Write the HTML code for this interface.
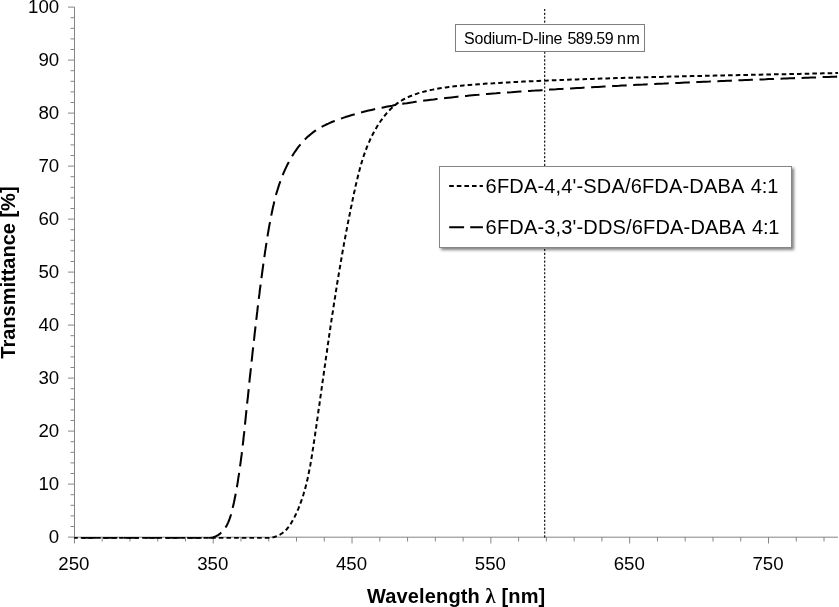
<!DOCTYPE html>
<html><head><meta charset="utf-8"><title>Transmittance</title>
<style>html,body{margin:0;padding:0;background:#fff}svg{display:block}text{font-family:"Liberation Sans",Arial,sans-serif;fill:#000}</style></head><body>
<svg width="839" height="607" viewBox="0 0 839 607">
<rect width="839" height="607" fill="#fff"/>
<g stroke="#868686" stroke-width="1" fill="none">
<line x1="74.5" y1="7" x2="74.5" y2="537.5"/>
<line x1="74" y1="537.2" x2="838" y2="537.2"/>
<line x1="68.0" y1="537.1" x2="74.5" y2="537.1"/>
<line x1="70.5" y1="526.5" x2="74.5" y2="526.5"/>
<line x1="70.5" y1="515.9" x2="74.5" y2="515.9"/>
<line x1="70.5" y1="505.3" x2="74.5" y2="505.3"/>
<line x1="70.5" y1="494.7" x2="74.5" y2="494.7"/>
<line x1="68.0" y1="484.1" x2="74.5" y2="484.1"/>
<line x1="70.5" y1="473.5" x2="74.5" y2="473.5"/>
<line x1="70.5" y1="462.9" x2="74.5" y2="462.9"/>
<line x1="70.5" y1="452.3" x2="74.5" y2="452.3"/>
<line x1="70.5" y1="441.7" x2="74.5" y2="441.7"/>
<line x1="68.0" y1="431.1" x2="74.5" y2="431.1"/>
<line x1="70.5" y1="420.5" x2="74.5" y2="420.5"/>
<line x1="70.5" y1="409.9" x2="74.5" y2="409.9"/>
<line x1="70.5" y1="399.3" x2="74.5" y2="399.3"/>
<line x1="70.5" y1="388.7" x2="74.5" y2="388.7"/>
<line x1="68.0" y1="378.1" x2="74.5" y2="378.1"/>
<line x1="70.5" y1="367.5" x2="74.5" y2="367.5"/>
<line x1="70.5" y1="356.9" x2="74.5" y2="356.9"/>
<line x1="70.5" y1="346.3" x2="74.5" y2="346.3"/>
<line x1="70.5" y1="335.7" x2="74.5" y2="335.7"/>
<line x1="68.0" y1="325.1" x2="74.5" y2="325.1"/>
<line x1="70.5" y1="314.5" x2="74.5" y2="314.5"/>
<line x1="70.5" y1="303.9" x2="74.5" y2="303.9"/>
<line x1="70.5" y1="293.3" x2="74.5" y2="293.3"/>
<line x1="70.5" y1="282.7" x2="74.5" y2="282.7"/>
<line x1="68.0" y1="272.1" x2="74.5" y2="272.1"/>
<line x1="70.5" y1="261.5" x2="74.5" y2="261.5"/>
<line x1="70.5" y1="250.9" x2="74.5" y2="250.9"/>
<line x1="70.5" y1="240.3" x2="74.5" y2="240.3"/>
<line x1="70.5" y1="229.7" x2="74.5" y2="229.7"/>
<line x1="68.0" y1="219.1" x2="74.5" y2="219.1"/>
<line x1="70.5" y1="208.5" x2="74.5" y2="208.5"/>
<line x1="70.5" y1="197.9" x2="74.5" y2="197.9"/>
<line x1="70.5" y1="187.3" x2="74.5" y2="187.3"/>
<line x1="70.5" y1="176.7" x2="74.5" y2="176.7"/>
<line x1="68.0" y1="166.1" x2="74.5" y2="166.1"/>
<line x1="70.5" y1="155.5" x2="74.5" y2="155.5"/>
<line x1="70.5" y1="144.9" x2="74.5" y2="144.9"/>
<line x1="70.5" y1="134.3" x2="74.5" y2="134.3"/>
<line x1="70.5" y1="123.7" x2="74.5" y2="123.7"/>
<line x1="68.0" y1="113.1" x2="74.5" y2="113.1"/>
<line x1="70.5" y1="102.5" x2="74.5" y2="102.5"/>
<line x1="70.5" y1="91.9" x2="74.5" y2="91.9"/>
<line x1="70.5" y1="81.3" x2="74.5" y2="81.3"/>
<line x1="70.5" y1="70.7" x2="74.5" y2="70.7"/>
<line x1="68.0" y1="60.1" x2="74.5" y2="60.1"/>
<line x1="70.5" y1="49.5" x2="74.5" y2="49.5"/>
<line x1="70.5" y1="38.9" x2="74.5" y2="38.9"/>
<line x1="70.5" y1="28.3" x2="74.5" y2="28.3"/>
<line x1="70.5" y1="17.7" x2="74.5" y2="17.7"/>
<line x1="68.0" y1="7.1" x2="74.5" y2="7.1"/>
<line x1="74.4" y1="537" x2="74.4" y2="543.5"/>
<line x1="102.16" y1="537" x2="102.16" y2="541.5"/>
<line x1="129.93" y1="537" x2="129.93" y2="541.5"/>
<line x1="157.69" y1="537" x2="157.69" y2="541.5"/>
<line x1="185.46" y1="537" x2="185.46" y2="541.5"/>
<line x1="213.22" y1="537" x2="213.22" y2="543.5"/>
<line x1="240.98" y1="537" x2="240.98" y2="541.5"/>
<line x1="268.75" y1="537" x2="268.75" y2="541.5"/>
<line x1="296.51" y1="537" x2="296.51" y2="541.5"/>
<line x1="324.28" y1="537" x2="324.28" y2="541.5"/>
<line x1="352.04" y1="537" x2="352.04" y2="543.5"/>
<line x1="379.8" y1="537" x2="379.8" y2="541.5"/>
<line x1="407.57" y1="537" x2="407.57" y2="541.5"/>
<line x1="435.33" y1="537" x2="435.33" y2="541.5"/>
<line x1="463.1" y1="537" x2="463.1" y2="541.5"/>
<line x1="490.86" y1="537" x2="490.86" y2="543.5"/>
<line x1="518.62" y1="537" x2="518.62" y2="541.5"/>
<line x1="546.39" y1="537" x2="546.39" y2="541.5"/>
<line x1="574.15" y1="537" x2="574.15" y2="541.5"/>
<line x1="601.92" y1="537" x2="601.92" y2="541.5"/>
<line x1="629.68" y1="537" x2="629.68" y2="543.5"/>
<line x1="657.44" y1="537" x2="657.44" y2="541.5"/>
<line x1="685.21" y1="537" x2="685.21" y2="541.5"/>
<line x1="712.97" y1="537" x2="712.97" y2="541.5"/>
<line x1="740.74" y1="537" x2="740.74" y2="541.5"/>
<line x1="768.5" y1="537" x2="768.5" y2="543.5"/>
<line x1="796.26" y1="537" x2="796.26" y2="541.5"/>
<line x1="824.03" y1="537" x2="824.03" y2="541.5"/>
</g>
<line x1="544.7" y1="9" x2="544.7" y2="537.4" stroke="#000" stroke-width="1.1" stroke-dasharray="2.1 1.77"/>
<clipPath id="pc"><rect x="74.3" y="0" width="763.7" height="538.75"/></clipPath>
<path d="M74.3,538 L249.9,538.0 L252.7,538.0 L255.7,538.0 L258.8,538.0 L262.0,538.0 L265.2,538.0 L268.3,538.0 L271.4,537.8 L274.4,537.0 L277.3,535.9 L280.0,534.6 L282.5,533.0 L284.7,531.2 L286.8,529.2 L288.6,526.9 L290.3,524.6 L291.8,522.1 L293.2,519.5 L294.6,516.9 L295.9,514.2 L297.1,511.5 L298.3,508.8 L299.4,506.1 L300.4,503.4 L301.4,500.6 L302.4,497.8 L303.3,495.0 L304.1,492.1 L305.0,489.3 L305.7,486.4 L306.5,483.5 L307.2,480.6 L307.8,477.7 L308.4,474.7 L309.0,471.8 L309.6,468.8 L310.2,465.9 L310.7,462.9 L311.2,459.9 L311.7,456.9 L312.2,453.9 L312.6,450.9 L313.1,447.9 L313.5,444.9 L314.0,441.9 L314.4,438.9 L314.9,435.9 L315.3,433.0 L315.7,430.0 L316.2,427.0 L316.6,424.0 L317.0,421.0 L317.5,418.0 L317.9,415.0 L318.3,412.0 L318.7,409.0 L319.2,406.1 L319.6,403.1 L320.0,400.1 L320.4,397.1 L320.9,394.1 L321.3,391.1 L321.7,388.2 L322.1,385.2 L322.5,382.2 L323.0,379.2 L323.4,376.3 L323.8,373.3 L324.2,370.3 L324.6,367.4 L325.1,364.4 L325.5,361.4 L325.9,358.4 L326.3,355.5 L326.8,352.5 L327.2,349.5 L327.6,346.6 L328.0,343.6 L328.5,340.6 L328.9,337.7 L329.3,334.7 L329.8,331.8 L330.2,328.8 L330.6,325.8 L331.1,322.9 L331.5,319.9 L332.0,317.0 L332.4,314.0 L332.9,311.1 L333.3,308.1 L333.8,305.1 L334.2,302.2 L334.7,299.2 L335.2,296.3 L335.6,293.3 L336.1,290.4 L336.6,287.4 L337.0,284.5 L337.5,281.5 L338.0,278.6 L338.5,275.6 L339.0,272.7 L339.5,269.7 L340.0,266.8 L340.5,263.8 L341.0,260.9 L341.5,257.9 L342.0,255.0 L342.5,252.0 L343.1,249.1 L343.6,246.1 L344.1,243.2 L344.7,240.2 L345.2,237.3 L345.8,234.4 L346.3,231.4 L346.9,228.5 L347.4,225.5 L348.0,222.6 L348.6,219.6 L349.2,216.7 L349.8,213.7 L350.3,210.8 L350.9,207.9 L351.6,204.9 L352.2,202.0 L352.8,199.0 L353.4,196.1 L354.0,193.1 L354.7,190.2 L355.3,187.2 L356.0,184.3 L356.7,181.4 L357.4,178.4 L358.1,175.5 L358.8,172.6 L359.6,169.7 L360.4,166.8 L361.2,163.9 L362.1,161.0 L363.0,158.2 L363.9,155.3 L364.9,152.5 L366.0,149.7 L367.0,146.9 L368.2,144.1 L369.4,141.4 L370.6,138.6 L371.9,135.9 L373.3,133.2 L374.7,130.6 L376.3,127.9 L377.8,125.3 L379.5,122.8 L381.2,120.3 L383.0,117.8 L384.9,115.4 L386.8,113.1 L388.8,110.9 L390.9,108.8 L393.1,106.8 L395.3,104.9 L397.6,103.1 L400.0,101.5 L402.4,100.0 L405.0,98.6 L407.6,97.3 L410.2,96.2 L413.0,95.1 L415.8,94.1 L418.6,93.1 L421.6,92.3 L424.6,91.5 L427.6,90.7 L430.7,90.1 L433.7,89.4 L436.8,88.9 L439.8,88.3 L442.8,87.9 L445.8,87.4 L448.8,87.0 L451.7,86.7 L454.7,86.3 L457.7,86.0 L460.6,85.7 L463.6,85.4 L466.5,85.2 L469.5,84.9 L472.4,84.7 L475.4,84.5 L478.4,84.3 L481.3,84.1 L484.3,83.8 L487.3,83.6 L490.3,83.4 L493.2,83.3 L496.2,83.1 L499.2,82.9 L502.2,82.7 L505.2,82.5 L508.2,82.4 L511.2,82.2 L514.2,82.1 L517.2,81.9 L520.2,81.8 L523.2,81.6 L526.2,81.5 L529.2,81.3 L532.2,81.2 L535.2,81.1 L538.2,80.9 L541.2,80.8 L544.2,80.7 L547.2,80.6 L550.2,80.4 L553.2,80.3 L556.2,80.2 L559.2,80.1 L562.2,80.0 L565.2,79.8 L568.2,79.7 L571.2,79.6 L574.2,79.5 L577.2,79.4 L580.2,79.3 L583.2,79.2 L586.2,79.1 L589.2,79.0 L592.2,78.9 L595.2,78.8 L598.2,78.7 L601.2,78.6 L604.2,78.5 L607.2,78.4 L610.2,78.3 L613.2,78.2 L616.2,78.1 L619.2,78.0 L622.2,77.9 L625.2,77.8 L628.2,77.8 L631.2,77.7 L634.2,77.6 L637.2,77.5 L640.2,77.4 L643.2,77.3 L646.2,77.3 L649.2,77.2 L652.2,77.1 L655.2,77.0 L658.2,76.9 L661.2,76.9 L664.2,76.8 L667.2,76.7 L670.2,76.6 L673.2,76.6 L676.2,76.5 L679.2,76.4 L682.2,76.3 L685.2,76.3 L688.2,76.2 L691.2,76.1 L694.2,76.1 L697.2,76.0 L700.2,75.9 L703.2,75.9 L706.1,75.8 L709.1,75.7 L712.1,75.7 L715.1,75.6 L718.1,75.5 L721.1,75.5 L724.1,75.4 L727.1,75.3 L730.1,75.3 L733.1,75.2 L736.1,75.2 L739.1,75.1 L742.1,75.0 L745.1,75.0 L748.1,74.9 L751.1,74.8 L754.1,74.8 L757.1,74.7 L760.1,74.7 L763.1,74.6 L766.1,74.5 L769.1,74.5 L772.1,74.4 L775.1,74.3 L778.1,74.3 L781.1,74.2 L784.1,74.2 L787.1,74.1 L790.1,74.0 L793.1,74.0 L796.1,73.9 L799.1,73.9 L802.1,73.8 L805.1,73.7 L808.1,73.7 L811.1,73.6 L814.1,73.5 L817.1,73.5 L820.1,73.4 L823.1,73.3 L826.1,73.3 L829.1,73.2 L832.1,73.2 L835.1,73.1 L838.0,73.0" clip-path="url(#pc)" fill="none" stroke="#000" stroke-width="2" stroke-linejoin="round" stroke-dasharray="4.6 3.066" stroke-dashoffset="1.15"/>
<path d="M74.3,538 L199.4,538.0 L203.2,538.0 L206.7,538.0 L210.0,538.0 L212.9,537.5 L215.6,536.4 L218.0,535.1 L220.2,533.6 L222.1,531.8 L223.9,529.8 L225.5,527.6 L226.9,525.2 L228.1,522.6 L229.2,520.0 L230.2,517.2 L231.1,514.3 L231.9,511.4 L232.6,508.4 L233.3,505.3 L234.0,502.3 L234.6,499.2 L235.2,496.2 L235.8,493.2 L236.3,490.2 L236.9,487.2 L237.4,484.1 L237.9,481.1 L238.3,478.1 L238.8,475.1 L239.3,472.1 L239.7,469.1 L240.1,466.2 L240.5,463.2 L240.9,460.2 L241.3,457.2 L241.7,454.2 L242.0,451.3 L242.4,448.3 L242.7,445.3 L243.1,442.3 L243.4,439.4 L243.7,436.4 L244.1,433.4 L244.4,430.5 L244.7,427.5 L245.0,424.5 L245.3,421.6 L245.6,418.6 L245.9,415.6 L246.2,412.7 L246.5,409.7 L246.8,406.7 L247.1,403.8 L247.4,400.8 L247.8,397.8 L248.1,394.8 L248.4,391.9 L248.7,388.9 L249.0,385.9 L249.3,382.9 L249.6,380.0 L249.9,377.0 L250.3,374.0 L250.6,371.0 L250.9,368.1 L251.2,365.1 L251.5,362.1 L251.9,359.1 L252.2,356.1 L252.5,353.2 L252.8,350.2 L253.2,347.2 L253.5,344.2 L253.8,341.2 L254.2,338.2 L254.5,335.3 L254.8,332.3 L255.2,329.3 L255.5,326.3 L255.9,323.3 L256.2,320.3 L256.6,317.3 L256.9,314.4 L257.3,311.4 L257.6,308.4 L258.0,305.4 L258.4,302.4 L258.7,299.4 L259.1,296.4 L259.5,293.4 L259.8,290.4 L260.2,287.5 L260.6,284.5 L261.0,281.5 L261.4,278.5 L261.8,275.5 L262.2,272.5 L262.6,269.5 L263.0,266.6 L263.4,263.6 L263.8,260.6 L264.3,257.6 L264.7,254.7 L265.1,251.7 L265.6,248.7 L266.0,245.8 L266.5,242.8 L267.0,239.8 L267.4,236.9 L267.9,233.9 L268.4,231.0 L268.9,228.0 L269.4,225.1 L270.0,222.2 L270.5,219.2 L271.1,216.3 L271.7,213.4 L272.3,210.5 L272.9,207.6 L273.6,204.7 L274.2,201.8 L275.0,198.9 L275.7,196.0 L276.5,193.1 L277.4,190.3 L278.3,187.4 L279.2,184.5 L280.2,181.7 L281.2,178.8 L282.3,176.0 L283.5,173.2 L284.7,170.4 L286.0,167.6 L287.3,164.9 L288.7,162.2 L290.2,159.5 L291.7,156.9 L293.3,154.3 L294.9,151.8 L296.6,149.3 L298.4,146.9 L300.3,144.6 L302.2,142.4 L304.2,140.2 L306.3,138.1 L308.5,136.1 L310.7,134.2 L313.0,132.4 L315.4,130.7 L317.9,129.1 L320.4,127.6 L323.0,126.2 L325.7,124.8 L328.4,123.6 L331.1,122.3 L333.9,121.2 L336.7,120.1 L339.6,119.1 L342.4,118.1 L345.3,117.1 L348.2,116.2 L351.1,115.3 L354.0,114.4 L356.9,113.6 L359.8,112.8 L362.7,112.1 L365.7,111.3 L368.6,110.6 L371.5,109.9 L374.4,109.2 L377.4,108.6 L380.3,108.0 L383.3,107.4 L386.2,106.8 L389.2,106.2 L392.1,105.7 L395.1,105.1 L398.0,104.6 L401.0,104.1 L404.0,103.6 L406.9,103.2 L409.9,102.7 L412.9,102.3 L415.8,101.8 L418.8,101.4 L421.8,101.0 L424.7,100.6 L427.7,100.2 L430.7,99.8 L433.7,99.5 L436.6,99.1 L439.6,98.7 L442.6,98.4 L445.6,98.0 L448.5,97.7 L451.5,97.4 L454.5,97.1 L457.5,96.7 L460.4,96.4 L463.4,96.1 L466.4,95.9 L469.4,95.6 L472.4,95.3 L475.3,95.0 L478.3,94.8 L481.3,94.5 L484.3,94.2 L487.3,94.0 L490.3,93.7 L493.3,93.5 L496.2,93.3 L499.2,93.0 L502.2,92.8 L505.2,92.6 L508.2,92.4 L511.2,92.2 L514.2,91.9 L517.1,91.7 L520.1,91.5 L523.1,91.3 L526.1,91.1 L529.1,90.9 L532.1,90.7 L535.1,90.6 L538.1,90.4 L541.1,90.2 L544.1,90.0 L547.1,89.8 L550.1,89.6 L553.0,89.4 L556.0,89.3 L559.0,89.1 L562.0,88.9 L565.0,88.7 L568.0,88.6 L571.0,88.4 L574.0,88.2 L577.0,88.0 L580.0,87.9 L583.0,87.7 L586.0,87.5 L589.0,87.4 L592.0,87.2 L595.0,87.0 L598.0,86.9 L601.0,86.7 L604.0,86.5 L607.0,86.4 L610.0,86.2 L613.0,86.1 L616.0,85.9 L619.0,85.8 L622.0,85.6 L625.0,85.5 L628.0,85.3 L631.0,85.1 L634.0,85.0 L637.0,84.8 L640.0,84.7 L643.0,84.6 L646.0,84.4 L649.0,84.3 L652.0,84.1 L655.0,84.0 L658.0,83.8 L661.0,83.7 L664.0,83.6 L667.0,83.4 L670.0,83.3 L673.0,83.1 L676.0,83.0 L679.0,82.9 L682.0,82.7 L685.0,82.6 L688.0,82.5 L691.0,82.3 L694.0,82.2 L697.0,82.1 L700.0,81.9 L703.0,81.8 L706.0,81.7 L709.0,81.6 L712.0,81.4 L715.0,81.3 L718.0,81.2 L721.0,81.0 L724.0,80.9 L727.0,80.8 L730.0,80.7 L733.0,80.6 L736.0,80.4 L739.0,80.3 L742.0,80.2 L745.0,80.1 L748.0,80.0 L751.0,79.8 L754.0,79.7 L757.0,79.6 L760.0,79.5 L763.0,79.4 L765.9,79.3 L768.9,79.1 L771.9,79.0 L774.9,78.9 L777.9,78.8 L780.9,78.7 L783.9,78.6 L786.9,78.5 L789.9,78.3 L792.9,78.2 L795.9,78.1 L798.9,78.0 L801.9,77.9 L804.9,77.8 L807.9,77.7 L810.9,77.6 L813.8,77.5 L816.8,77.4 L819.8,77.3 L822.8,77.1 L825.8,77.0 L828.8,76.9 L831.8,76.8 L834.8,76.7 L837.8,76.6 L837.9,76.6" clip-path="url(#pc)" fill="none" stroke="#000" stroke-width="2.05" stroke-linejoin="round" stroke-dasharray="14.5 6.57" stroke-dashoffset="13.56"/>
<text x="59.2" y="543.2" font-size="18.67" text-anchor="end">0</text>
<text x="59.2" y="490.2" font-size="18.67" text-anchor="end">10</text>
<text x="59.2" y="437.2" font-size="18.67" text-anchor="end">20</text>
<text x="59.2" y="384.2" font-size="18.67" text-anchor="end">30</text>
<text x="59.2" y="331.2" font-size="18.67" text-anchor="end">40</text>
<text x="59.2" y="278.2" font-size="18.67" text-anchor="end">50</text>
<text x="59.2" y="225.2" font-size="18.67" text-anchor="end">60</text>
<text x="59.2" y="172.2" font-size="18.67" text-anchor="end">70</text>
<text x="59.2" y="119.2" font-size="18.67" text-anchor="end">80</text>
<text x="59.2" y="66.2" font-size="18.67" text-anchor="end">90</text>
<text x="59.2" y="13.2" font-size="18.67" text-anchor="end">100</text>
<text x="73.9" y="570.3" font-size="18.67" text-anchor="middle">250</text>
<text x="212.7" y="570.3" font-size="18.67" text-anchor="middle">350</text>
<text x="351.5" y="570.3" font-size="18.67" text-anchor="middle">450</text>
<text x="490.4" y="570.3" font-size="18.67" text-anchor="middle">550</text>
<text x="629.2" y="570.3" font-size="18.67" text-anchor="middle">650</text>
<text x="768.0" y="570.3" font-size="18.67" text-anchor="middle">750</text>
<text x="456.2" y="602.8" font-size="20" font-weight="bold" text-anchor="middle" letter-spacing="0.14">Wavelength <tspan font-weight="bold" font-size="20.5" font-family="'Liberation Serif','DejaVu Serif',serif">λ</tspan> [nm]</text>
<text transform="translate(15.3,272.6) rotate(-90)" font-size="20" font-weight="bold" text-anchor="middle">Transmittance [%]</text>
<rect x="455.5" y="24.5" width="189" height="27" fill="#fff" stroke="#7f7f7f" stroke-width="1"/>
<text y="43.7" font-size="16"><tspan x="464.1" letter-spacing="-0.25">Sodium-D-line</tspan> <tspan x="567.5" letter-spacing="-0.58">589.59</tspan> <tspan x="616.9" letter-spacing="0.8">nm</tspan></text>
<defs><filter id="sh" x="-5%" y="-10%" width="112%" height="130%"><feGaussianBlur in="SourceAlpha" stdDeviation="1.5"/><feOffset dx="2.2" dy="2.2"/><feComponentTransfer><feFuncA type="linear" slope="0.5"/></feComponentTransfer><feMerge><feMergeNode/><feMergeNode in="SourceGraphic"/></feMerge></filter></defs>
<rect x="439.5" y="166.5" width="352" height="81" fill="#fff" stroke="#868686" stroke-width="1" filter="url(#sh)"/>
<line x1="449.2" y1="185.9" x2="482.9" y2="185.9" stroke="#000" stroke-width="2" stroke-dasharray="4.6 3"/>
<line x1="449.2" y1="227.2" x2="482.9" y2="227.2" stroke="#000" stroke-width="2.1" stroke-dasharray="14.9 6.1"/>
<text x="485.6" y="193.0" font-size="20" letter-spacing="0.167">6FDA-4,4'-SDA/6FDA-DABA<tspan dx="0.9" letter-spacing="-0.1"> 4:1</tspan></text>
<text x="485.6" y="233.9" font-size="20" letter-spacing="0.167">6FDA-3,3'-DDS/6FDA-DABA<tspan dx="0.9" letter-spacing="-0.1"> 4:1</tspan></text>
</svg></body></html>
